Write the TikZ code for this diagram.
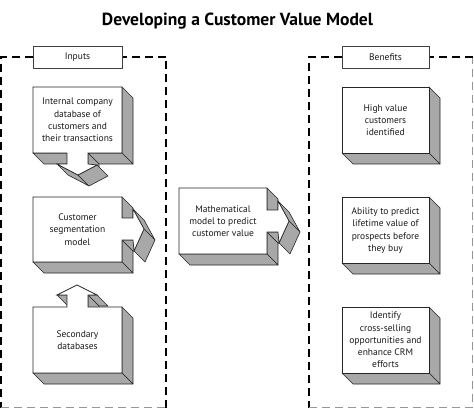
\documentclass[tikz,border=0pt]{standalone}
\usepackage{fontspec}
\usepackage{graphicx}
\setmainfont{PT Sans}
\usetikzlibrary{calc}
\definecolor{sidegray}{RGB}{168,168,168}
\definecolor{framegray}{RGB}{150,150,150}
\newcommand\sidequad[2]{\filldraw[sideface] (#1) -- (#2) -- ($(#2)+(11,11)$) -- ($(#1)+(11,11)$) -- cycle;}
\begin{document}
\begin{tikzpicture}[x=1pt,y=-1pt,
  sideface/.style={fill=sidegray,draw=black!85,line width=0.6pt,line join=round},
  front/.style={fill=white,draw=black!85,line width=0.7pt,line join=miter},
  frame/.style={dash pattern=on 8pt off 5pt,line width=1.3pt},
  lbl/.style={fill=white,draw=black!75,line width=0.6pt},
  txt/.style={align=center,font=\fontsize{9.5}{12.3}\selectfont,inner sep=0pt,text=black!90}]
\useasboundingbox (0,0) rectangle (474,409);

% title
\node[anchor=base,inner sep=0pt] (title) at (237.5,25.7) {\resizebox{271pt}{!}{\fontsize{18}{20}\selectfont\bfseries Developing a Customer Value Model}};

% dashed frames
\draw[frame] (33,57) -- (1,57) -- (1,407.5);
\draw[frame,framegray] (1,407.5) -- (166,407.5);
\draw[frame] (166,407.5) -- (166,57) -- (122,57);
\draw[frame] (342,57) -- (309,57) -- (309,407.5);
\draw[frame,framegray] (309,407.5) -- (472.5,407.5) -- (472.5,57);
\draw[frame] (472.5,57) -- (429,57);

% label boxes
\draw[lbl] (33,46) rectangle (122,68);
\node[txt] (inputs) at (77.5,57) {Inputs};
\draw[lbl] (342,46) rectangle (429,68);
\node[txt] (benefits) at (385.5,57) {Benefits};

% Box 1: internal company database, arrow down
\sidequad{122,87}{122,153}
\sidequad{122,153}{88,153}
\sidequad{67,153}{33,153}
\sidequad{88,153}{88,164}
\sidequad{78,175}{57,164}
\sidequad{97,165}{78,175}
\filldraw[front] (33,87) -- (122,87) -- (122,153) -- (88,153) -- (88,164) -- (97,165) -- (78,175) -- (57,164) -- (67,164) -- (67,153) -- (33,153) -- cycle;
\node[txt] (internal) at (77.5,120) {Internal company\\database of\\customers and\\their transactions};

% Box 2: customer segmentation, arrow right
\sidequad{122,197}{122,218}
\sidequad{122,240}{122,262}
\sidequad{122,262}{33,262}
\sidequad{133,240}{122,240}
\sidequad{133,209}{144,229}
\sidequad{144,229}{134,251}
\filldraw[front] (33,197) -- (122,197) -- (122,218) -- (133,218) -- (133,209) -- (144,229) -- (134,251) -- (133,240) -- (122,240) -- (122,262) -- (33,262) -- cycle;
\node[txt] (segment) at (77.5,229.5) {Customer\\segmentation\\model};

% Box 3: secondary databases, arrow up
\sidequad{67,295}{57,295}
\sidequad{97,295}{88,295}
\sidequad{88,295}{88,307}
\sidequad{122,307}{122,373}
\sidequad{122,373}{33,373}
\filldraw[front] (33,307) -- (67,307) -- (67,295) -- (57,295) -- (77,285) -- (97,295) -- (88,295) -- (88,307) -- (122,307) -- (122,373) -- (33,373) -- cycle;
\node[txt] (secondary) at (77.5,340) {Secondary\\databases};

% Center box: mathematical model, arrow right
\sidequad{267,188}{267,210}
\sidequad{267,232}{267,254}
\sidequad{267,254}{179,254}
\sidequad{278,232}{267,232}
\sidequad{278,201}{289,221}
\sidequad{289,221}{279,243}
\filldraw[front] (179,188) -- (267,188) -- (267,210) -- (278,210) -- (278,201) -- (289,221) -- (279,243) -- (278,232) -- (267,232) -- (267,254) -- (179,254) -- cycle;
\node[txt] (math) at (223,221) {Mathematical\\model to predict\\customer value};

% Right boxes
\sidequad{429,87}{429,153}
\sidequad{429,153}{342,153}
\filldraw[front] (342,87) rectangle (429,153);
\node[txt] (high) at (385.5,120) {High value\\customers\\identified};

\sidequad{429,197}{429,263}
\sidequad{429,263}{342,263}
\filldraw[front] (342,197) rectangle (429,263);
\node[txt] (ability) at (385.5,230.5) {Ability to predict\\lifetime value of\\prospects before\\they buy};

\sidequad{429,307}{429,373}
\sidequad{429,373}{342,373}
\filldraw[front] (342,307) rectangle (429,373);
\node[txt] (identify) at (385.5,340) {Identify\\cross-selling\\opportunities and\\enhance CRM\\efforts};
\end{tikzpicture}
\end{document}
